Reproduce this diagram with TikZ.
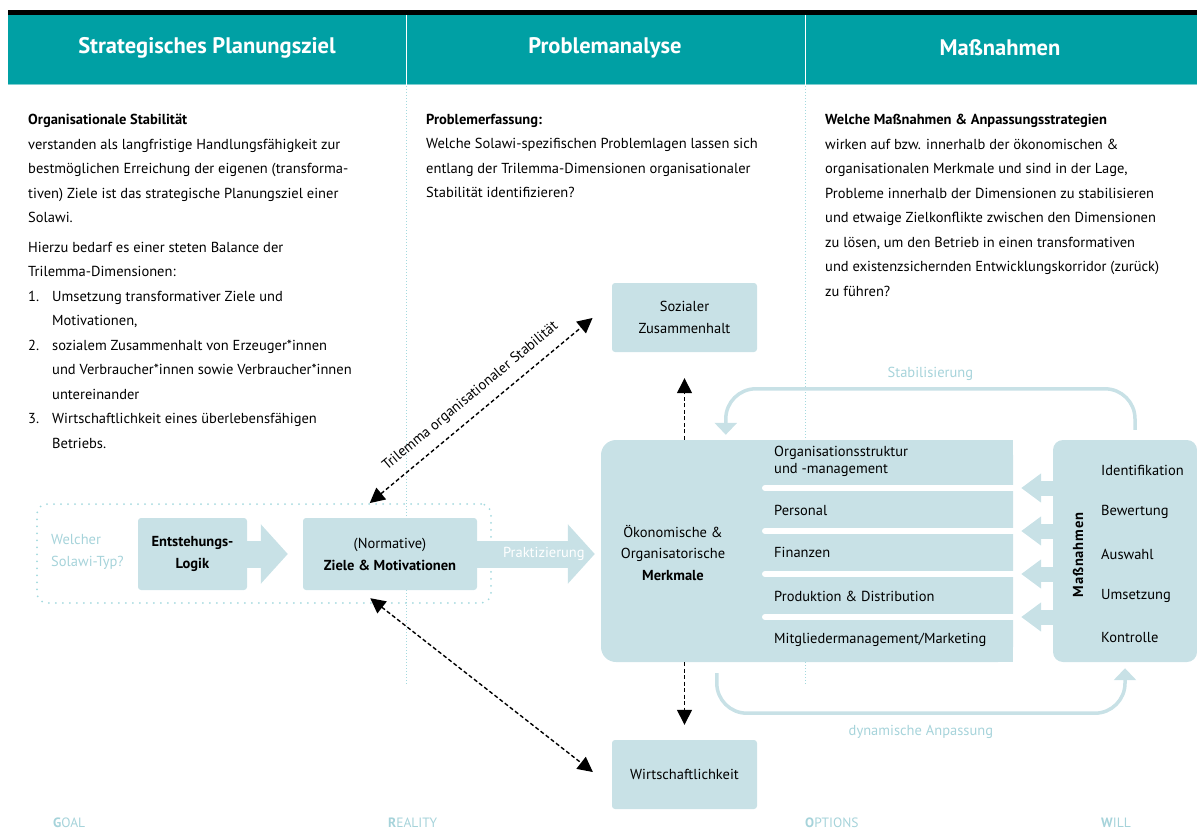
\documentclass[tikz,border=0pt]{standalone}
\usepackage{fontspec}
\setmainfont{PT Sans}
\usetikzlibrary{arrows.meta,positioning}
\definecolor{headteal}{HTML}{00A0A4}
\definecolor{headline}{HTML}{7FCFD1}
\definecolor{boxblue}{HTML}{C8E1E6}
\definecolor{paleblue}{HTML}{A6D3DA}
\definecolor{dotblue}{HTML}{A3D9DE}
\begin{document}
\begin{tikzpicture}
    [x=1pt, y=-1pt,
    body/.style={font=\fontsize{14.5}{24.5}\selectfont, align=left, inner sep=0pt, anchor=north west},
    colhead/.style={font=\fontsize{22.5}{26}\selectfont\bfseries, text=white},
    card/.style={fill=boxblue, rounded corners=3pt, align=center, font=\fontsize{14.5}{22}\selectfont, inner sep=0pt},
    pale/.style={text=paleblue, font=\fontsize{14.5}{22}\selectfont, align=left, inner sep=0pt},
    item/.style={font=\fontsize{14.5}{17}\selectfont, align=left, inner sep=0pt, anchor=west},
    trilemma/.style={dash pattern=on 4pt off 2.5pt, line width=1.4pt, {Triangle[length=15pt,width=15pt]}-{Triangle[length=15pt,width=15pt]}},
    link/.style={dash pattern=on 4pt off 2.5pt, line width=1.4pt, -{Triangle[length=15pt,width=15pt]}},
    fat/.style={boxblue, line width=27pt, -{Triangle[length=27pt,width=58pt]}},
    push/.style={boxblue, line width=15pt, -{Triangle[length=20pt,width=28pt]}},
    loopline/.style={boxblue, line width=3.5pt, rounded corners=30pt, -{Triangle[length=12pt,width=22pt]}},
    colline/.style={dotblue, line width=1pt, dotted},
    corner/.style={text=paleblue, font=\fontsize{13.5}{16}\selectfont, anchor=base west, inner sep=0pt}]
    \useasboundingbox (0,0) rectangle (1197,840);
    \fill[black] (8,10) rectangle (1197,15);
    \fill[headteal] (8,15) rectangle (1197,85);
    \draw[headline, line width=1pt] (8,85) -- (1197,85);
    \draw[white, line width=0.8pt] (406,15) -- (406,85) (805,15) -- (805,85);
    \draw[colline] (406,86) -- (406,685) (805,86) -- (805,685);
    \node[colhead] (hgoal) at (207,48) {Strategisches Planungsziel};
    \node[colhead] (hreal) at (605,48) {Problemanalyse};
    \node[colhead] (hwill) at (1000,48) {Maßnahmen};

    \node[body] (goaltxt) at (28,114) {\textbf{Organisationale Stabilität}\\
        verstanden als langfristige Handlungsfähigkeit zur\\
        bestmöglichen Erreichung der eigenen (transforma-\\
        tiven) Ziele ist das strategische Planungsziel einer\\
        Solawi.\\[5pt]
        Hierzu bedarf es einer steten Balance der\\
        Trilemma-Dimensionen:\\
        \makebox[24pt][l]{1.}Umsetzung transformativer Ziele und\\
        \hspace*{24pt}Motivationen,\\
        \makebox[24pt][l]{2.}sozialem Zusammenhalt von Erzeuger*innen\\
        \hspace*{24pt}und Verbraucher*innen sowie Verbraucher*innen\\
        \hspace*{24pt}untereinander\\
        \makebox[24pt][l]{3.}Wirtschaftlichkeit eines überlebensfähigen\\
        \hspace*{24pt}Betriebs.};
    \node[body] (realtxt) at (426,114) {\textbf{Problemerfassung:}\\
        Welche Solawi-spezifischen Problemlagen lassen sich\\
        entlang der Trilemma-Dimensionen organisationaler\\
        Stabilität identifizieren?};
    \node[body] (willtxt) at (825,114) {\textbf{Welche Maßnahmen \& Anpassungsstrategien}\\
        wirken auf bzw. innerhalb der ökonomischen \&\\
        organisationalen Merkmale und sind in der Lage,\\
        Probleme innerhalb der Dimensionen zu stabilisieren\\
        und etwaige Zielkonflikte zwischen den Dimensionen\\
        zu lösen, um den Betrieb in einen transformativen\\
        und existenzsichernden Entwicklungskorridor (zurück)\\
        zu führen?};

    \node[draw=dotblue, line width=2pt, line cap=round, dash pattern=on 0pt off 7pt, rounded corners=10pt,
        minimum width=454pt, minimum height=99pt] (frame) at (264,553.5) {};
    \node[pale, anchor=west] (typ) at (51,552) {Welcher\\Solawi-Typ?};
    \node[card, minimum width=109pt, minimum height=72pt] (entst) at (192.5,554) {\textbf{Entstehungs-}\\\textbf{Logik}};
    \node[card, minimum width=174pt, minimum height=72pt] (ziele) at (390,554) {(Normative)\\\textbf{Ziele \& Motivationen}};
    \node[card, minimum width=145pt, minimum height=69pt] (soz) at (684.5,317.5) {Sozialer\\Zusammenhalt};
    \node[card, minimum width=145pt, minimum height=69pt] (wirt) at (684.5,774.5) {Wirtschaftlichkeit};

    \node[fill=boxblue, rounded corners=15pt, minimum width=412pt, minimum height=222pt, inner sep=0pt] (feat) at (807,551) {};
    \fill[boxblue] (feat.north east) rectangle ++(-20,20);
    \fill[boxblue] (feat.south east) rectangle ++(-20,-20);
    \foreach \y in {488,531,574,617}
        \draw[white, line width=6pt, line cap=round] (765,\y) -- (1016,\y);
    \node[align=center, font=\fontsize{14.5}{21.5}\selectfont] (merk) at (673,553) {Ökonomische \&\\Organisatorische\\\textbf{Merkmale}};
    \node[item] (org) at (774,461) {Organisationsstruktur\\und -management};
    \node[item] (pers) at (774,510) {Personal};
    \node[item] (fin) at (774,552) {Finanzen};
    \node[item] (prod) at (774,596) {Produktion \& Distribution};
    \node[item] (mitgl) at (774,640) {Mitgliedermanagement/Marketing};

    \node[fill=boxblue, rounded corners=10pt, minimum width=144pt, minimum height=222pt] (mass) at (1125,551) {};
    \node[rotate=90, font=\fontsize{14.5}{16}\selectfont\bfseries\addfontfeature{LetterSpace=6}] (masslbl) at (1078,555) {Maßnahmen};
    \foreach \t [count=\i] in {Identifikation,Bewertung,Auswahl,Umsetzung,Kontrolle}
        \node[item] (phase\i) at (1101,{470+42*(\i-1)}) {\t};
    \foreach \y in {488,531,574,617}
        \draw[push, shorten >=8pt] (mass.west |- 0,\y) -- (feat.east |- 0,\y);

    \draw[fat, shorten >=15pt] (entst.east) -- (ziele.west);
    \draw[fat, shorten >=6pt] (ziele.east) -- node[pos=0, anchor=west, xshift=9pt, text=white,
        font=\fontsize{14.5}{16}\selectfont] (prakt) {Praktizierung} (feat.west |- ziele.east);

    \draw[link, shorten >=26pt] (soz.south |- feat.north) -- (soz.south);
    \draw[link, shorten >=15pt] (wirt.north |- feat.south) -- (wirt.north);
    \draw[trilemma, shorten <=23pt, shorten >=25pt] ([xshift=-38pt]ziele.north) --
        node[midway, sloped, above=7pt, font=\fontsize{14.5}{16}\selectfont] (trilbl) {Trilemma organisationaler Stabilität}
        ([yshift=15.5pt]soz.west);
    \draw[trilemma, shorten <=13pt, shorten >=24pt] ([xshift=-30pt]ziele.south) -- ([yshift=-12.3pt]wirt.west);

    \draw[loopline] ([xshift=10pt,yshift=10pt]mass.north) -- ++(0,-41) -|
        node[pos=0.25, above=3pt, text=paleblue, font=\fontsize{14.5}{16}\selectfont] (stab) {Stabilisierung}
        ([xshift=125pt,yshift=5pt]feat.north west);
    \draw[loopline] ([xshift=116pt,yshift=-11pt]feat.south west) -- ++(0,40) -|
        node[pos=0.25, below=7pt, text=paleblue, font=\fontsize{14.5}{16}\selectfont] (anp) {dynamische Anpassung}
        ([yshift=-6pt]mass.south);

    \node[corner] (goal) at (53,827) {\textbf{G}OAL};
    \node[corner] (reality) at (388,827) {\textbf{R}EALITY};
    \node[corner] (options) at (805,827) {\textbf{O}PTIONS};
    \node[corner] (will) at (1101,827) {\textbf{W}ILL};
\end{tikzpicture}
\end{document}
